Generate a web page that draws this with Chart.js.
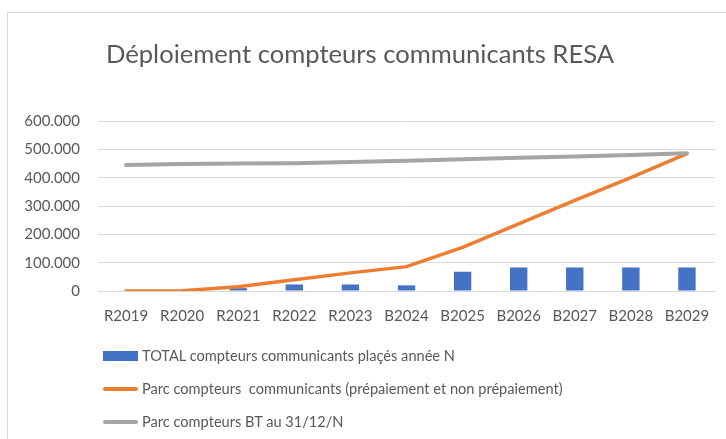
<!DOCTYPE html>
<html>
<head>
<meta charset="utf-8">
<script src="https://cdn.jsdelivr.net/npm/chart.js@4"></script>
<style>
  html, body { margin: 0; padding: 0; background: #fff; }
  #wrap { position: relative; width: 726px; height: 439px; overflow: hidden; }
  #frame { position: absolute; left: 7px; top: 12px; width: 740px; height: 460px;
           border-left: 1px solid #d9d9d9; border-top: 1px solid #d9d9d9; }
  canvas { position: absolute; left: 0; top: 0; }
  #title { position: absolute; left: 0; top: 38px; width: 720px; text-align: center;
           font-family: Lato, sans-serif; font-size: 25.6px; line-height: 30px; color: #595959; }
  #legend { position: absolute; left: 103px; top: 339px; font-family: Lato, sans-serif;
            font-size: 14.6px; color: #595959; }
  .item { height: 33px; display: flex; align-items: center; white-space: pre; }
  .sym { width: 35px; margin-right: 4px; }
</style>
</head>
<body>
<div id="wrap">
  <div id="frame"></div>
  <canvas id="c" width="726" height="439"></canvas>
  <div id="title">Déploiement compteurs communicants RESA</div>
  <div id="legend"></div>
</div>
<script>
const labels = ["R2019", "R2020", "R2021", "R2022", "R2023", "B2024", "B2025", "B2026", "B2027", "B2028", "B2029"];
const placed = [0, 0, 10000, 23000, 23000, 20000, 68000, 83000, 83000, 83000, 83000];
const parcComm = [0, 1000, 15000, 40000, 64000, 86000, 154000, 237000, 320000, 400000, 485000];
const parcBT = [445000, 448000, 450000, 451000, 455000, 460000, 465000, 470000, 475000, 480000, 486000];
const names = [
  "TOTAL compteurs communicants plaçés année N",
  "Parc compteurs  communicants (prépaiement et non prépaiement)",
  "Parc compteurs BT au 31/12/N"
];

function fmt(v) {
  return String(v).replace(/\B(?=(\d{3})+(?!\d))/g, ".");
}

const chart = new Chart(document.getElementById("c"), {
  type: "bar",
  data: {
    labels: labels,
    datasets: [
      { type: "bar", label: names[0], data: placed, backgroundColor: "#4472C4",
        barPercentage: 0.31, categoryPercentage: 1, order: 3 },
      { type: "line", label: names[1], data: parcComm, borderColor: "#ED7D31",
        borderWidth: 3.5, pointRadius: 0, tension: 0, borderCapStyle: "round", order: 2 },
      { type: "line", label: names[2], data: parcBT, borderColor: "#A5A5A5",
        borderWidth: 4, pointRadius: 0, tension: 0, borderCapStyle: "round", order: 1 }
    ]
  },
  options: {
    responsive: false,
    animation: false,
    layout: { padding: { left: 21, right: 11, top: 121, bottom: 106 } },
    plugins: {
      legend: { display: false },
      tooltip: { enabled: false },
      title: { display: false }
    },
    scales: {
      x: {
        grid: { display: false },
        border: { color: "#d9d9d9" },
        ticks: { color: "#595959", font: { family: "Lato", size: 15 }, padding: 8, maxRotation: 0 }
      },
      y: {
        min: 0, max: 600000,
        border: { display: false },
        grid: { color: "#d9d9d9", tickLength: 0 },
        ticks: { stepSize: 100000, color: "#595959", font: { family: "Lato", size: 15 },
                 padding: 18, callback: v => fmt(v) },
        afterFit: s => { s.width = 77; }
      }
    }
  }
});

// legend in html, one item per row
const leg = document.getElementById("legend");
chart.data.datasets.forEach((ds, i) => {
  const row = document.createElement("div");
  row.className = "item";
  const sym = document.createElement("span");
  sym.className = "sym";
  if (ds.type === "bar") {
    sym.style.height = "10px";
    sym.style.background = ds.backgroundColor;
  } else {
    sym.style.height = "4px";
    sym.style.borderRadius = "2px";
    sym.style.background = ds.borderColor;
  }
  const txt = document.createElement("span");
  txt.textContent = names[i];
  row.appendChild(sym);
  row.appendChild(txt);
  leg.appendChild(row);
});
</script>
</body>
</html>
